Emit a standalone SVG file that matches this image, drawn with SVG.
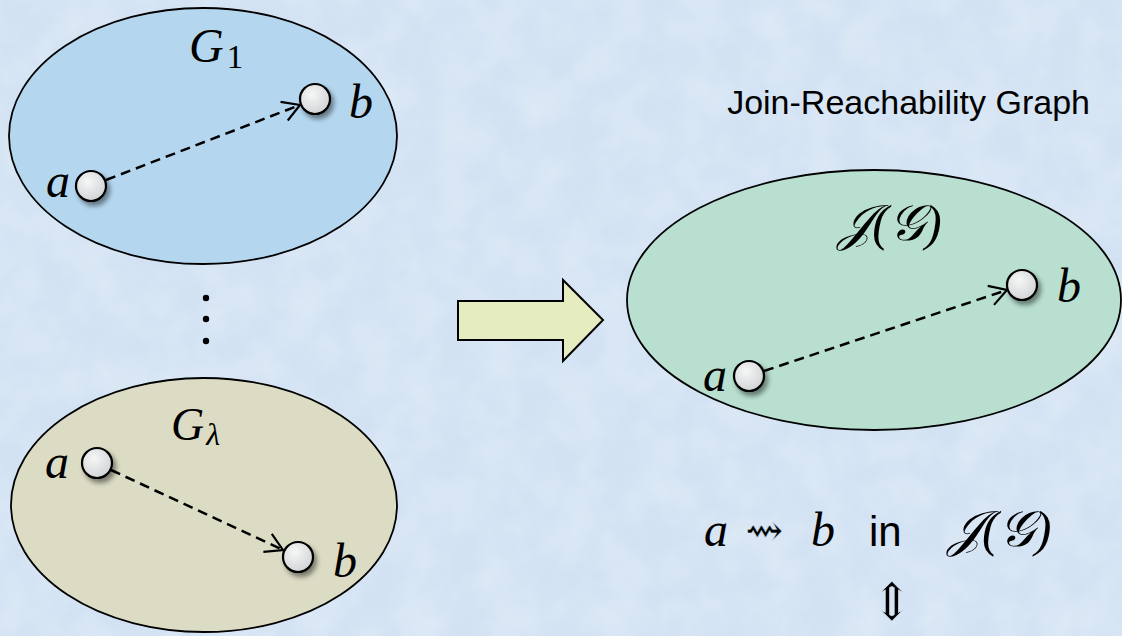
<svg xmlns="http://www.w3.org/2000/svg" width="1122" height="636" viewBox="0 0 1122 636">
<defs>
<style>
.math{font-family:"Liberation Serif","DejaVu Serif",serif;font-style:italic;fill:#000}
.rm{font-family:"Liberation Serif","DejaVu Serif",serif;font-style:normal;fill:#000}
.sym{font-family:"DejaVu Serif","DejaVu Sans",serif;font-style:normal;fill:#000;stroke:#d4e4f4;stroke-width:0.5}
.sans{font-family:"Liberation Sans",Arial,sans-serif;fill:#000}
.ell{stroke:#000;stroke-width:1.8}
.node{fill:url(#ng);stroke:#000;stroke-width:2.2;filter:url(#sh)}
.edge{fill:none;stroke:#000;stroke-width:2.5;stroke-dasharray:10 6;marker-end:url(#ah)}
</style>
<radialGradient id="ng" cx="0.4" cy="0.35" r="0.7">
<stop offset="0" stop-color="#f6f6f6"/><stop offset="1" stop-color="#cfd2d4"/>
</radialGradient>
<filter id="sh" x="-50%" y="-50%" width="200%" height="200%">
<feGaussianBlur in="SourceAlpha" stdDeviation="2.5"/><feOffset dx="3" dy="4" result="b"/>
<feComponentTransfer><feFuncA type="linear" slope="0.45"/></feComponentTransfer>
<feMerge><feMergeNode/><feMergeNode in="SourceGraphic"/></feMerge>
</filter>
<filter id="tex" x="0" y="0" width="100%" height="100%">
<feTurbulence type="fractalNoise" baseFrequency="0.025" numOctaves="3" seed="4"/>
<feColorMatrix type="matrix" values="0 0 0 0 1  0 0 0 0 1  0 0 0 0 1  0 0 0 0.4 -0.12"/>
</filter>
<marker id="ah" viewBox="0 0 20 24" refX="19" refY="12" markerWidth="20" markerHeight="24" orient="auto" markerUnits="userSpaceOnUse">
<path d="M2,2 L19,12 L2,22" fill="none" stroke="#000" stroke-width="2.2"/>
</marker>
</defs>
<rect width="1122" height="636" fill="#d2e2f3"/>
<rect width="1122" height="636" filter="url(#tex)"/>

<g id="G1">
<ellipse class="ell" cx="203" cy="136" rx="194" ry="128" fill="#b4d7ef"/>
<text class="math" x="189" y="62" font-size="48">G<tspan class="rm" font-size="33" dx="3" dy="6">1</tspan></text>
</g>
<g id="G1-a"><circle class="node" cx="91" cy="186" r="15"/><text class="math" x="46" y="197" font-size="48">a</text></g>
<g id="G1-b"><circle class="node" cx="315" cy="99" r="15"/><text class="math" x="349" y="118" font-size="48">b</text></g>

<g id="dots" fill="#000"><circle cx="206" cy="298" r="3.2"/><circle cx="206" cy="319" r="3.2"/><circle cx="206" cy="341" r="3.2"/></g>

<g id="Glambda">
<ellipse class="ell" cx="204" cy="505" rx="193" ry="127" fill="#dcdcc5"/>
<text class="math" x="171" y="440" font-size="46">G<tspan font-size="32" dx="2" dy="5">λ</tspan></text>
</g>
<g id="GL-a"><circle class="node" cx="97" cy="463" r="15"/><text class="math" x="45" y="478" font-size="48">a</text></g>
<g id="GL-b"><circle class="node" cx="298" cy="557" r="15"/><text class="math" x="333" y="577" font-size="48">b</text></g>

<g id="bigarrow">
<path d="M458,301 L563,301 L563,280 L603,320 L563,361 L563,340 L458,340 Z" fill="#e4ecc0" stroke="#000" stroke-width="2"/>
</g>

<g id="title"><text class="sans" x="1090" y="114" font-size="34" text-anchor="end">Join-Reachability Graph</text></g>

<g id="JG">
<ellipse class="ell" cx="874" cy="300" rx="247" ry="130" fill="#b8dfcf"/>
<text class="math" x="890" y="240" font-size="50" text-anchor="middle">𝒥(𝒢)</text>
</g>
<g id="JG-a"><circle class="node" cx="749" cy="376" r="15"/><text class="math" x="703" y="391" font-size="48">a</text></g>
<g id="JG-b"><circle class="node" cx="1022" cy="285" r="15"/><text class="math" x="1057" y="302" font-size="48">b</text></g>

<g id="connectors">
<line class="edge" x1="106" y1="180" x2="300" y2="105"/>
<line class="edge" x1="111" y1="470" x2="283" y2="550"/>
<line class="edge" x1="764" y1="371" x2="1007" y2="290"/>
</g>

<g id="bottom">
<text class="math" x="704" y="546" font-size="48">a</text>
<text class="sym" x="745" y="546" font-size="46">⇝</text>
<text class="math" x="811" y="546" font-size="48">b</text>
<text class="sans" x="869" y="546" font-size="42">in</text>
<text class="math" x="948" y="546" font-size="50">𝒥(𝒢)</text>
<text class="sym" x="892" y="620" font-size="52" text-anchor="middle">⇕</text>
</g>
</svg>
